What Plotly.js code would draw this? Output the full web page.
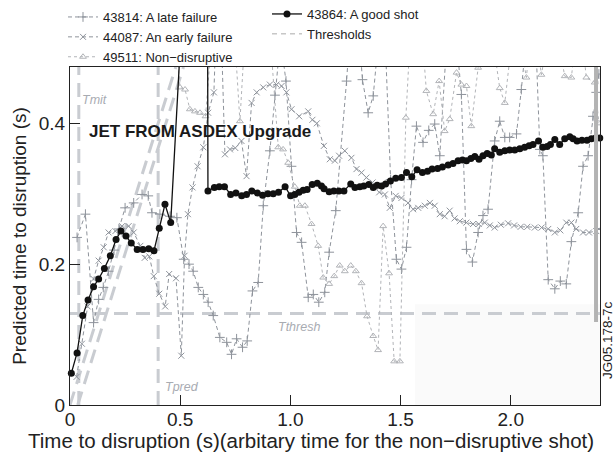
<!DOCTYPE html>
<html>
<head>
<meta charset="utf-8">
<script src="https://cdn.plot.ly/plotly-3.0.1.min.js"></script>
<style>
  html, body { margin: 0; padding: 0; background: #fff; }
  #chart { width: 615px; height: 456px; }
</style>
</head>
<body>
<div id="chart"></div>
<script>
// Shot 43864: a good shot (predicted time to disruption, s)
const goodT = [0.006, 0.032, 0.058, 0.082, 0.107, 0.130, 0.156, 0.183, 0.209, 0.231, 0.254, 0.278, 0.305, 0.331, 0.357, 0.381, 0.405, 0.431, 0.457,
  0.620, 0.626, 0.655, 0.677, 0.701, 0.729, 0.753, 0.779, 0.801, 0.825, 0.850, 0.874, 0.898, 0.922, 0.946, 0.976, 1.001, 1.020, 1.039, 1.058, 1.076,
  1.099, 1.122, 1.141, 1.153, 1.176, 1.197, 1.220, 1.243, 1.274, 1.293, 1.315, 1.333, 1.356, 1.376, 1.394, 1.414, 1.432, 1.454, 1.478, 1.504,
  1.527, 1.551, 1.575, 1.599, 1.622, 1.643, 1.668, 1.690, 1.716, 1.738, 1.761, 1.781, 1.799, 1.819, 1.837, 1.856, 1.874, 1.893, 1.912, 1.927,
  1.950, 1.973, 1.995, 2.018, 2.041, 2.063, 2.083, 2.101, 2.126, 2.146, 2.165, 2.180, 2.200, 2.222, 2.245, 2.268, 2.283, 2.301, 2.323, 2.346,
  2.366, 2.385, 2.404];
const goodP = [0.045, 0.074, 0.127, 0.149, 0.168, 0.179, 0.194, 0.212, 0.235, 0.247, 0.240, 0.230, 0.221, 0.221, 0.222, 0.219, 0.251, 0.285, 0.259,
  1.200, 0.304, 0.309, 0.310, 0.310, 0.299, 0.301, 0.297, 0.299, 0.304, 0.301, 0.298, 0.300, 0.300, 0.302, 0.310, 0.297, 0.299, 0.302, 0.305, 0.306,
  0.313, 0.315, 0.311, 0.307, 0.303, 0.304, 0.304, 0.304, 0.314, 0.309, 0.310, 0.311, 0.313, 0.309, 0.312, 0.311, 0.314, 0.318, 0.322, 0.323,
  0.330, 0.324, 0.334, 0.330, 0.332, 0.335, 0.336, 0.338, 0.341, 0.343, 0.347, 0.348, 0.347, 0.350, 0.353, 0.349, 0.354, 0.357, 0.355, 0.364,
  0.359, 0.361, 0.362, 0.362, 0.364, 0.366, 0.368, 0.370, 0.375, 0.366, 0.367, 0.370, 0.377, 0.370, 0.378, 0.381, 0.378, 0.375, 0.376, 0.376,
  0.378, 0.379, 0.379];

// Shot 43814: a late failure
const lateT = [0.032, 0.070, 0.107, 0.130, 0.151, 0.175, 0.200, 0.222, 0.250, 0.289, 0.327, 0.355, 0.372, 0.408, 0.454, 0.485, 0.516, 0.540,
  0.559, 0.582, 0.605, 0.627, 0.650, 0.680, 0.711, 0.733, 0.756, 0.783, 0.804, 0.828, 0.854, 0.877, 0.907, 0.930, 0.955, 0.980, 1.005,
  1.028, 1.051, 1.081, 1.104, 1.129, 1.156, 1.176, 1.206, 1.255, 1.290, 1.327, 1.353, 1.376, 1.400, 1.430, 1.455, 1.481, 1.504, 1.527,
  1.550, 1.572, 1.602, 1.628, 1.655, 1.678, 1.710, 1.745, 1.776, 1.799, 1.826, 1.852, 1.874, 1.897, 1.927, 1.950, 1.973, 1.995, 2.026,
  2.048, 2.080, 2.110, 2.132, 2.146, 2.170, 2.200, 2.225, 2.252, 2.275, 2.306, 2.328, 2.351, 2.373, 2.388, 2.400];
const lateP = [0.238, 0.271, 0.117, 0.150, 0.167, 0.190, 0.220, 0.250, 0.280, 0.287, 0.299, 0.297, 0.273, 0.271, 0.268, 0.266, 0.207, 0.200,
  0.190, 0.167, 0.157, 0.146, 0.127, 0.096, 0.089, 0.072, 0.094, 0.082, 0.091, 0.162, 0.174, 0.283, 0.361, 0.440, 0.520, 0.460, 0.339,
  0.245, 0.231, 0.153, 0.157, 0.146, 0.160, 0.217, 0.276, 0.460, 0.620, 0.462, 0.415, 0.439, 0.520, 0.520, 0.320, 0.207, 0.193, 0.224,
  0.320, 0.396, 0.373, 0.390, 0.399, 0.354, 0.520, 0.550, 0.441, 0.221, 0.203, 0.245, 0.269, 0.278, 0.375, 0.403, 0.380, 0.380, 0.385,
  0.448, 0.550, 0.550, 0.363, 0.354, 0.178, 0.165, 0.176, 0.172, 0.232, 0.273, 0.339, 0.354, 0.410, 0.444, 0.470];

// Shot 44087: an early failure
const earlyT = [0.030, 0.054, 0.080, 0.107, 0.130, 0.153, 0.175, 0.206, 0.236, 0.266, 0.289, 0.319, 0.339, 0.360, 0.380, 0.405, 0.432, 0.450,
  0.481, 0.505, 0.520, 0.535, 0.556, 0.579, 0.605, 0.627, 0.653, 0.675, 0.703, 0.726, 0.750, 0.778, 0.801, 0.824, 0.847, 0.877, 0.907,
  0.937, 0.960, 0.982, 1.005, 1.040, 1.081, 1.100, 1.120, 1.152, 1.179, 1.202, 1.221, 1.247, 1.277, 1.300, 1.323, 1.345, 1.373, 1.403,
  1.429, 1.451, 1.478, 1.504, 1.534, 1.557, 1.580, 1.610, 1.633, 1.655, 1.678, 1.700, 1.723, 1.745, 1.769, 1.799, 1.829, 1.855, 1.882,
  1.905, 1.927, 1.955, 1.988, 2.015, 2.045, 2.075, 2.109, 2.140, 2.170, 2.200, 2.225, 2.252, 2.275, 2.297, 2.328, 2.355, 2.388, 2.400];
const earlyP = [0.040, 0.087, 0.140, 0.179, 0.205, 0.224, 0.245, 0.247, 0.254, 0.254, 0.245, 0.226, 0.209, 0.211, 0.183, 0.158, 0.140, 0.186,
  0.180, 0.070, 0.212, 0.271, 0.309, 0.339, 0.366, 0.415, 0.444, 0.650, 0.356, 0.363, 0.365, 0.375, 0.325, 0.429, 0.444, 0.451, 0.455,
  0.455, 0.453, 0.444, 0.420, 0.410, 0.417, 0.405, 0.400, 0.368, 0.349, 0.347, 0.354, 0.361, 0.351, 0.335, 0.330, 0.323, 0.316, 0.302,
  0.299, 0.280, 0.297, 0.294, 0.287, 0.278, 0.280, 0.283, 0.287, 0.283, 0.271, 0.268, 0.276, 0.265, 0.261, 0.259, 0.257, 0.257, 0.259,
  0.255, 0.252, 0.256, 0.258, 0.255, 0.253, 0.253, 0.252, 0.252, 0.250, 0.245, 0.248, 0.259, 0.259, 0.250, 0.245, 0.245, 0.247, 0.250];

// Shot 49511: non-disruptive (arbitrary time axis)
const nondT = [0.470, 0.499, 0.522, 0.544, 0.567, 0.590, 0.615, 0.650, 0.740, 0.771, 0.800, 0.900, 0.945, 0.967, 0.990, 1.020, 1.043, 1.066,
  1.096, 1.126, 1.149, 1.176, 1.199, 1.224, 1.247, 1.274, 1.297, 1.323, 1.348, 1.376, 1.398, 1.421, 1.448, 1.471, 1.497, 1.524, 1.550,
  1.590, 1.617, 1.648, 1.675, 1.700, 1.723, 1.754, 1.776, 1.799, 1.821, 1.852, 1.900, 1.950, 1.973, 2.020, 2.071, 2.100, 2.139, 2.190,
  2.245, 2.275, 2.310, 2.343, 2.381, 2.400];
const nondP = [0.560, 0.451, 0.448, 0.420, 0.417, 0.415, 0.410, 0.550, 0.560, 0.403, 0.560, 0.560, 0.366, 0.363, 0.344, 0.310, 0.283, 0.283,
  0.257, 0.226, 0.181, 0.172, 0.183, 0.198, 0.190, 0.198, 0.190, 0.173, 0.126, 0.098, 0.078, 0.254, 0.187, 0.062, 0.062, 0.408, 0.560,
  0.560, 0.446, 0.413, 0.460, 0.389, 0.406, 0.472, 0.455, 0.453, 0.396, 0.479, 0.560, 0.450, 0.429, 0.560, 0.465, 0.560, 0.469, 0.560,
  0.467, 0.465, 0.560, 0.465, 0.458, 0.400];

// Alarm thresholds (s)
const tMit = 0.04;
const tPred = 0.40;
const tThresh = 0.13;

const xTicks = [0, 0.5, 1.0, 1.5, 2.0];
const xTickText = ['0', '0.5', '1.0', '1.5', '2.0'];
const yTicks = [0, 0.2, 0.4];
const yTickText = ['0', '0.2', '0.4'];

const X_MAX = 2.405, Y_MAX = 0.48;
const FONT = 'Liberation Sans, Arial, Helvetica, sans-serif';
const thrColor = '#c9ccd1';
const grey = '#8e939b';

// plot-area geometry in pixels, used to place paper-referenced items
const PLOT_L = 70, PLOT_R = 600, PLOT_T = 67, PLOT_B = 405;
const px2paperX = px => (px - PLOT_L) / (PLOT_R - PLOT_L);
const px2paperY = py => (PLOT_B - py) / (PLOT_B - PLOT_T);

const thrStyle = { color: thrColor, width: 3, dash: '14px,8px' };
const traces = [
  // threshold guides
  { x: [tMit, tMit], y: [0, Y_MAX], mode: 'lines', line: thrStyle, showlegend: false, hoverinfo: 'skip' },
  { x: [tPred, tPred], y: [0, Y_MAX], mode: 'lines', line: thrStyle, showlegend: false, hoverinfo: 'skip' },
  { x: [0, X_MAX], y: [tThresh, tThresh], mode: 'lines', line: thrStyle, showlegend: false, hoverinfo: 'skip' },
  { x: [0, Y_MAX], y: [0, Y_MAX], mode: 'lines', line: thrStyle, showlegend: false, hoverinfo: 'skip' },
  { x: [0.035, Y_MAX + 0.035], y: [0, Y_MAX], mode: 'lines', line: thrStyle, showlegend: false, hoverinfo: 'skip' },

  { x: lateT, y: lateP, name: '43814: A late failure', mode: 'lines+markers', legend: 'legend',
    line: { color: grey, width: 1, dash: '4px,3px' },
    marker: { symbol: 'cross-thin-open', size: 7, line: { color: grey, width: 1 } } },
  { x: earlyT, y: earlyP, name: '44087: An early failure', mode: 'lines+markers', legend: 'legend',
    line: { color: grey, width: 1, dash: '4px,3px' },
    marker: { symbol: 'x-thin-open', size: 6, line: { color: grey, width: 1 } } },
  { x: nondT, y: nondP, name: '49511: Non\u2212disruptive', mode: 'lines+markers', legend: 'legend',
    line: { color: '#b2b4b8', width: 1, dash: 'dot' },
    marker: { symbol: 'triangle-up-open', size: 6, line: { color: '#a9abb0', width: 1 } } },

  { x: goodT, y: goodP, name: '43864: A good shot', mode: 'lines+markers', legend: 'legend2',
    cliponaxis: false,
    line: { color: '#111', width: 1.3 },
    marker: { symbol: 'circle', size: 7, color: '#111' } },
  { x: [null], y: [null], name: 'Thresholds', mode: 'lines', legend: 'legend2',
    line: { color: '#aaa', width: 1, dash: '5px,4px' } }
];

const labelFont = { family: FONT, size: 12.5, color: '#a8abb2', style: 'italic' };
const tickFont = { size: 19, family: FONT, color: '#222' };
const legendFont = { size: 13, family: FONT, color: '#222' };

const layout = {
  width: 615, height: 456,
  margin: { l: PLOT_L, r: 615 - PLOT_R, t: PLOT_T, b: 456 - PLOT_B, autoexpand: false },
  paper_bgcolor: '#fff', plot_bgcolor: '#fff',
  font: { family: FONT, color: '#222' },
  xaxis: {
    range: [0, X_MAX], tickvals: xTicks, ticktext: xTickText,
    ticks: 'inside', ticklen: 10, tickcolor: '#222',
    showline: true, mirror: true, linecolor: '#222', linewidth: 1,
    showgrid: false, zeroline: false,
    tickfont: tickFont, ticklabelstandoff: -3
  },
  yaxis: {
    range: [0, Y_MAX], tickvals: yTicks, ticktext: yTickText,
    ticks: 'inside', ticklen: 10, tickcolor: '#222',
    showline: true, mirror: true, linecolor: '#222', linewidth: 1,
    showgrid: false, zeroline: false,
    tickfont: tickFont,
    title: { text: 'Predicted time to disruption (s)', font: { size: 19, family: FONT, color: '#222' }, standoff: 7 }
  },
  legend: {
    x: px2paperX(63), y: px2paperY(2), xanchor: 'left', yanchor: 'top',
    bgcolor: 'rgba(0,0,0,0)', font: legendFont, tracegroupgap: 0
  },
  legend2: {
    x: px2paperX(267), y: px2paperY(-1), xanchor: 'left', yanchor: 'top',
    bgcolor: 'rgba(0,0,0,0)', font: legendFont
  },
  shapes: [
    { type: 'rect', xref: 'x', yref: 'y', x0: 1.565, x1: X_MAX, y0: 0, y1: 0.143,
      fillcolor: '#fafafa', line: { width: 0 }, layer: 'below' },
    { type: 'line', xref: 'x', yref: 'y', x0: 2.387, x1: 2.387, y0: 0.118, y1: Y_MAX,
      line: { color: '#b3b3b3', width: 4 }, layer: 'above' }
  ],
  annotations: [
    { x: 0.077, y: 0.389, xref: 'x', yref: 'y', xanchor: 'left', yanchor: 'middle', showarrow: false,
      text: '<b>JET FROM ASDEX Upgrade</b>', font: { family: FONT, size: 17, color: '#1a1a1a' } },
    { x: 0.045, y: 0.433, xref: 'x', yref: 'y', xanchor: 'left', yanchor: 'middle', showarrow: false,
      text: 'Tmit', font: labelFont },
    { x: 0.422, y: 0.026, xref: 'x', yref: 'y', xanchor: 'left', yanchor: 'middle', showarrow: false,
      text: 'Tpred', font: labelFont },
    { x: 0.935, y: 0.111, xref: 'x', yref: 'y', xanchor: 'left', yanchor: 'middle', showarrow: false,
      text: 'Tthresh', font: labelFont },
    { x: px2paperX(607), y: px2paperY(340), xref: 'paper', yref: 'paper', xanchor: 'center', yanchor: 'middle',
      showarrow: false, textangle: -90,
      text: 'JG05.178-7c', font: { family: FONT, size: 13.5, color: '#222' } },
    // x-axis title, wider than the plot area
    { x: px2paperX(311), y: px2paperY(440), xref: 'paper', yref: 'paper', xanchor: 'center', yanchor: 'middle',
      showarrow: false,
      text: 'Time to disruption (s)(arbitary time for the non\u2212disruptive shot)',
      font: { family: FONT, size: 20.5, color: '#222' } }
  ]
};

Plotly.newPlot('chart', traces, layout, { staticPlot: true, displayModeBar: false });
</script>
</body>
</html>
